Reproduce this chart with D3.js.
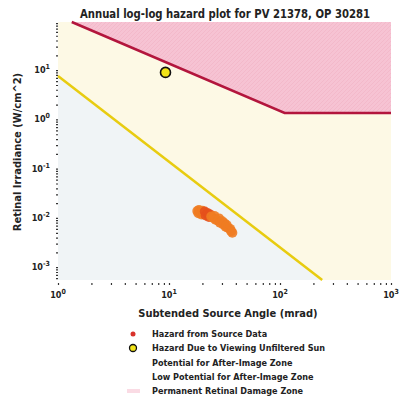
<!DOCTYPE html>
<html>
<head>
<meta charset="utf-8">
<script src="https://cdn.jsdelivr.net/npm/d3@7"></script>
<style>
body{margin:0;background:#fff;}
text{font-family:"DejaVu Sans Condensed","DejaVu Sans",sans-serif;font-weight:bold;fill:#222;}
</style>
</head>
<body>
<div id="chart"></div>
<script>
var width=401, height=404;

// zone boundaries (mrad, W/cm^2)
var damageX=[1.33,110,1000];
var damageY=[95,1.35,1.35];
var afterX=[1,240];
var afterY=[7.6,0.00055];

// hazard from source data
var hazardX=[18.0,18.4,18.6,19.1,19.6,20.0,20.4,21.0,21.4,22.4,22.9,23.4,24.0,25.1,25.6,26.3,27.5,28.2,28.8,30.2,30.8,31.6,32.4,33.1,33.9,35.5,36.3,37.2];
var hazardY=[0.0138,0.0125,0.0145,0.0132,0.0118,0.0140,0.0126,0.0135,0.0112,0.0124,0.0105,0.0118,0.0107,0.0100,0.0110,0.0092,0.0089,0.0098,0.0080,0.0086,0.0074,0.0078,0.0066,0.0072,0.0063,0.0060,0.0054,0.0050];

// unfiltered sun
var sunX=[9.3];
var sunY=[9.0];

var xTicks=[1,10,100,1000];
var yTicks=[0.001,0.01,0.1,1,10];
var legendItems=["Hazard from Source Data","Hazard Due to Viewing Unfiltered Sun","Potential for After-Image Zone","Low Potential for After-Image Zone","Permanent Retinal Damage Zone"];

var xMin=1, xMax=1000, yMin=0.00055, yMax=95;

var svg=d3.select("#chart").append("svg")
  .attr("width",width)
  .attr("height",height);

var x=d3.scaleLog().domain([xMin,xMax]).range([58,391]);
var y=d3.scaleLog().domain([yMin,yMax]).range([280,22]);

var defs=svg.append("defs");
var pat=defs.append("pattern")
  .attr("id","hatch")
  .attr("patternUnits","userSpaceOnUse")
  .attr("width",4).attr("height",4);
pat.append("rect").attr("width",4).attr("height",4).attr("fill","#f6c3d3");
pat.append("path").attr("d","M0,4 L4,0").attr("stroke","#f2b6c8").attr("stroke-width",0.8);

var line=d3.line().x(function(d){return x(d[0]);}).y(function(d){return y(d[1]);});
var damagePts=damageX.map(function(v,i){return [v,damageY[i]];});
var afterPts=afterX.map(function(v,i){return [v,afterY[i]];});

// low potential zone (below yellow line)
svg.append("path")
  .attr("d",line([afterPts[0],afterPts[1],[xMin,yMin]])+"Z")
  .attr("fill","#f0f4f6");

// potential after-image zone
svg.append("path")
  .attr("d",line([[xMin,yMax]].concat(damagePts,[[xMax,yMin]],[afterPts[1],afterPts[0]]))+"Z")
  .attr("fill","#fdf9e5");

// permanent damage zone
svg.append("path")
  .attr("d",line(damagePts.concat([[xMax,yMax]]))+"Z")
  .attr("fill","url(#hatch)");

svg.append("path")
  .attr("d",line(afterPts))
  .attr("fill","none")
  .attr("stroke","#e8cc10")
  .attr("stroke-width",2.5);

svg.append("path")
  .attr("d",line(damagePts))
  .attr("fill","none")
  .attr("stroke","#b3163d")
  .attr("stroke-width",2.5);

// hazard points
svg.append("g").selectAll("circle")
  .data(hazardX)
  .enter()
  .append("circle")
  .attr("cx",function(d){return x(d);})
  .attr("cy",function(d,i){return y(hazardY[i]);})
  .attr("r",5)
  .attr("fill",function(d,i){return (i>=7&&i<=11)?"#e5501c":"#f07c22";})
  .attr("fill-opacity",0.9);

svg.append("g").selectAll("circle")
  .data(sunX)
  .enter()
  .append("circle")
  .attr("cx",function(d){return x(d);})
  .attr("cy",function(d,i){return y(sunY[i]);})
  .attr("r",5)
  .attr("fill","#f2e418")
  .attr("stroke","#111")
  .attr("stroke-width",1.6);

// axes
function sup(sel){
  sel.each(function(d){
    var t=d3.select(this).text("");
    var p=Math.round(Math.log10(d));
    t.append("tspan").text("10");
    t.append("tspan").attr("dy",-4).attr("font-size",7).text(p);
  });
}

var xAxis=d3.axisBottom(x).tickSize(2).tickFormat("");
var gx=svg.append("g")
  .attr("transform","translate(0,283)")
  .call(xAxis);
gx.select(".domain").remove();
gx.selectAll(".tick line").attr("stroke","#333").attr("stroke-width",1.2);

var yAxis=d3.axisLeft(y).tickSize(2).tickFormat("");
var gy=svg.append("g")
  .attr("transform","translate(58,0)")
  .call(yAxis);
gy.select(".domain").remove();
gy.selectAll(".tick line").attr("stroke","#333").attr("stroke-width",1.2);

svg.append("g").selectAll("text")
  .data(xTicks)
  .enter()
  .append("text")
  .attr("x",function(d){return x(d);})
  .attr("y",298)
  .attr("font-size",9)
  .attr("text-anchor","middle")
  .call(sup);

svg.append("g").selectAll("text")
  .data(yTicks)
  .enter()
  .append("text")
  .attr("x",50)
  .attr("y",function(d){return y(d)+3;})
  .attr("font-size",9)
  .attr("text-anchor","end")
  .call(sup);

svg.append("text")
  .attr("x",225)
  .attr("y",18)
  .attr("font-size",11.5)
  .attr("text-anchor","middle")
  .attr("textLength",290)
  .attr("lengthAdjust","spacingAndGlyphs")
  .text("Annual log-log hazard plot for PV 21378, OP 30281");

svg.append("text")
  .attr("transform","translate(21,152) rotate(-90)")
  .attr("font-size",11)
  .attr("text-anchor","middle")
  .text("Retinal Irradiance (W/cm^2)");

svg.append("text")
  .attr("x",228)
  .attr("y",317)
  .attr("font-size",11)
  .attr("text-anchor","middle")
  .text("Subtended Source Angle (mrad)");

// legend
var leg=svg.append("g");
leg.selectAll("text")
  .data(legendItems)
  .enter()
  .append("text")
  .attr("x",152)
  .attr("y",function(d,i){return 337+i*14.3;})
  .attr("font-size",9)
  .text(function(d){return d;});

leg.append("circle").attr("cx",133).attr("cy",334).attr("r",2.5).attr("fill","#d8322a");
leg.append("circle").attr("cx",133).attr("cy",348).attr("r",3.5).attr("fill","#f2e418").attr("stroke","#111").attr("stroke-width",1.3);
leg.append("rect").attr("x",127).attr("y",389).attr("width",13).attr("height",4).attr("fill","#fadbe4");
</script>
</body>
</html>
